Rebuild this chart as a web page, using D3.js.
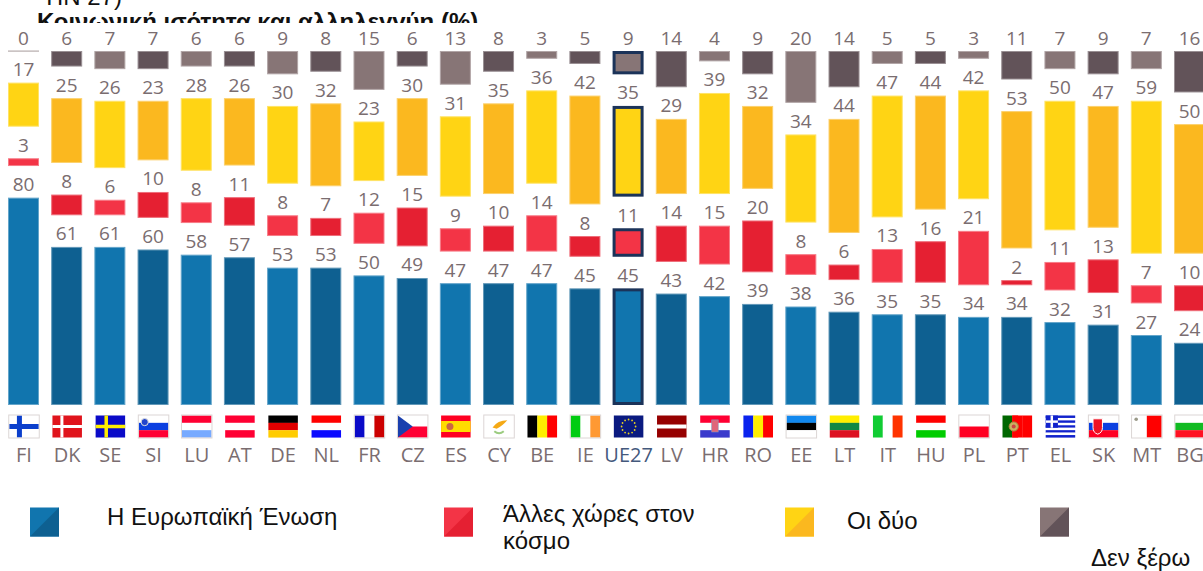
<!DOCTYPE html>
<html lang="el"><head><meta charset="utf-8">
<script src="https://cdn.jsdelivr.net/npm/d3@7"></script>
<style>html,body{margin:0;padding:0;background:#fff;overflow:hidden}svg{display:block}</style>
</head><body><svg id="c" width="1203" height="571"></svg>
<script>
const countries=["FI","DK","SE","SI","LU","AT","DE","NL","FR","CZ","ES","CY","BE","IE","UE27","LV","HR","RO","EE","LT","IT","HU","PL","PT","EL","SK","MT","BG"];
const euValues=[80,61,61,60,58,57,53,53,50,49,47,47,47,45,45,43,42,39,38,36,35,35,34,34,32,31,27,24];
const otherValues=[3,8,6,10,8,11,8,7,12,15,9,10,14,8,11,14,15,20,8,6,13,16,21,2,11,13,7,10];
const bothValues=[17,25,26,23,28,26,30,32,23,30,31,35,36,42,35,29,39,32,34,44,47,44,42,53,50,47,59,50];
const dkValues=[0,6,7,7,6,6,9,8,15,6,13,8,3,5,9,14,4,9,20,14,5,5,3,11,7,9,7,16];
const seriesNames=["Η Ευρωπαϊκή Ένωση","Άλλες χώρες στον κόσμο","Οι δύο","Δεν ξέρω"];
const titleLines=["ΤΙΝ 27)","Κοινωνική ισότητα και αλληλεγγύη (%)"];
const series=[euValues,otherValues,bothValues,dkValues];
const lightColors=["#1175ae","#f33446","#ffd414","#877576"];
const darkColors=["#0e6091","#e52032","#fbb81f","#625359"];

const svg=d3.select("#c");
const defs=svg.append("defs");
const x=d3.scaleBand().domain(countries).range([8,1205]).paddingInner(0.282).paddingOuter(0);
const bottom=405, gap=31.6;
const h=d3.scaleLinear().domain([0,100]).range([0,259.2]);
const labelFont="'Open Sans',sans-serif", textCol="#7a6d70";

// clipped header
defs.append("clipPath").attr("id","t2").append("rect").attr("x",0).attr("y",8).attr("width",1203).attr("height",15);
svg.append("text").attr("x",42).attr("y",4.5).attr("font-family","'Liberation Sans'").attr("font-size",24).attr("fill","#111").text(titleLines[0]);
svg.append("text").attr("x",37).attr("y",30).attr("clip-path","url(#t2)").attr("font-family","'Liberation Sans'").attr("font-size",24).attr("font-weight","bold").attr("fill","#111").text(titleLines[1]);

// bars
countries.forEach((c,i)=>{
  let base=bottom;
  const g=svg.append("g").attr("class","col");
  series.forEach((s,k)=>{
    const v=s[i], hh=h(v), top=base-hh, col=(i%2?darkColors:lightColors)[k];
    if(v===0){
      g.append("rect").attr("x",x(c)).attr("y",top-0.5).attr("width",x.bandwidth()).attr("height",1.2).attr("fill","#b5abac");
    }else if(c==="UE27"){
      g.append("rect").attr("x",x(c)+1.5).attr("y",top+1.5).attr("width",x.bandwidth()-3).attr("height",hh-3).attr("fill",col).attr("stroke","#1b3359").attr("stroke-width",3);
    }else{
      g.append("rect").attr("x",x(c)+0.5).attr("y",top+0.5).attr("width",x.bandwidth()-1).attr("height",hh-1).attr("fill",col).attr("stroke",d3.interpolateRgb(col,"#fff")(0.35)).attr("stroke-width",1);
    }
    g.append("text").attr("x",x(c)+x.bandwidth()/2).attr("y",top-6.5).attr("text-anchor","middle").attr("font-family",labelFont).attr("font-size",19).attr("fill",textCol).text(v);
    base=top-gap;
  });
  svg.append("text").attr("x",x(c)+x.bandwidth()/2+0.5).attr("y",462).attr("text-anchor","middle").attr("font-family",labelFont).attr("font-size",c==="UE27"?20:20).attr("fill",c==="UE27"?"#44597c":textCol).text(c);
});

// flags
const H=(...cs)=>(g,W,F)=>cs.forEach((c,i)=>g.append("rect").attr("y",i*F/cs.length).attr("width",W).attr("height",F/cs.length+0.1).attr("fill",c));
const V=(...cs)=>(g,W,F)=>cs.forEach((c,i)=>g.append("rect").attr("x",i*W/cs.length).attr("width",W/cs.length+0.1).attr("height",F).attr("fill",c));
const cross=(bg,fg,cx,t)=>(g,W,F)=>{
  g.append("rect").attr("width",W).attr("height",F).attr("fill",bg);
  g.append("rect").attr("x",W*cx).attr("width",t).attr("height",F).attr("fill",fg);
  g.append("rect").attr("y",(F-t)/2).attr("width",W).attr("height",t).attr("fill",fg);
};
const flags={
 FI:cross("#fff","#0b3fcc",0.26,5), DK:cross("#e0141c","#fff",0.27,3), SE:cross("#0a0ac8","#ffee00",0.3,3.5),
 SI:(g,W,F)=>{H("#fff","#0b3fe0","#ff0033")(g,W,F);g.append("circle").attr("cx",W*.2).attr("cy",F*.3).attr("r",3.6).attr("fill","#2244cc").attr("stroke","#ddd");},
 LU:H("#ff0033","#fff","#77aaff"), AT:H("#ff0033","#fff","#ff0033"), DE:H("#000","#e00000","#ffcc00"), NL:H("#ff0000","#fff","#0a0aff"),
 FR:V("#0a0ac8","#fff","#cc0000"),
 CZ:(g,W,F)=>{H("#fff","#ff0033")(g,W,F);g.append("path").attr("d",`M0 0L${W*.5} ${F/2}L0 ${F}Z`).attr("fill","#1a3fae");},
 ES:(g,W,F)=>{g.append("rect").attr("width",W).attr("height",F).attr("fill","#ff0022");g.append("rect").attr("y",F*.25).attr("width",W).attr("height",F*.5).attr("fill","#ffdd00");g.append("circle").attr("cx",W*.3).attr("cy",F*.5).attr("r",3.5).attr("fill","#cc6644");},
 CY:(g,W,F)=>{g.append("rect").attr("width",W).attr("height",F).attr("fill","#fff");g.append("path").attr("d",`M${W*.28} ${F*.55}Q${W*.45} ${F*.22} ${W*.78} ${F*.22}Q${W*.6} ${F*.5} ${W*.42} ${F*.6}Z`).attr("fill","#f5a915");g.append("path").attr("d",`M${W*.34} ${F*.72}Q${W*.5} ${F*.9} ${W*.66} ${F*.72}`).attr("fill","none").attr("stroke","#9ccc80").attr("stroke-width",2);},
 BE:V("#000","#ffee00","#ff0000"), IE:V("#00cc11","#fff","#ff9933"),
 UE27:(g,W,F)=>{g.append("rect").attr("width",W).attr("height",F).attr("fill","#0a1a80");d3.range(12).forEach(i=>g.append("circle").attr("cx",W/2+7*Math.cos(i*Math.PI/6)).attr("cy",F/2+7*Math.sin(i*Math.PI/6)).attr("r",.9).attr("fill","#e8d020"));},
 LV:(g,W,F)=>{g.append("rect").attr("width",W).attr("height",F).attr("fill","#960000");g.append("rect").attr("y",F*.41).attr("width",W).attr("height",F*.18).attr("fill","#fff");},
 HR:(g,W,F)=>{H("#ff0033","#fff","#3a3acc")(g,W,F);g.append("rect").attr("x",W*.39).attr("y",F*.2).attr("width",W*.22).attr("height",F*.55).attr("fill","#e0667a").attr("stroke","#8899bb").attr("stroke-width",.6);},
 RO:V("#0a22ee","#ffee00","#ff0000"), EE:H("#1188ee","#000","#fff"), LT:H("#ffee00","#118844","#dd1122"),
 IT:V("#11cc33","#fff","#ff3300"), HU:H("#ff0000","#fff","#00cc00"), PL:H("#fff","#ff0022"),
 PT:(g,W,F)=>{V("#006600","#ff0000","#ff0000")(g,W,F);g.append("rect").attr("x",W*.33).attr("width",W*.2).attr("height",F).attr("fill","#ff0000");g.append("circle").attr("cx",W*.38).attr("cy",F*.5).attr("r",4.6).attr("fill","#c9b060").attr("stroke","#b08040");g.append("circle").attr("cx",W*.38).attr("cy",F*.5).attr("r",2).attr("fill","#c44");},
 EL:(g,W,F)=>{d3.range(9).forEach(i=>g.append("rect").attr("y",i*F/9).attr("width",W).attr("height",F/9+.1).attr("fill",i%2?"#fff":"#1122cc"));g.append("rect").attr("width",F*5/9).attr("height",F*5/9).attr("fill","#1122cc");g.append("rect").attr("x",F*2/9).attr("width",F/9).attr("height",F*5/9).attr("fill","#fff");g.append("rect").attr("y",F*2/9).attr("width",F*5/9).attr("height",F/9).attr("fill","#fff");},
 SK:(g,W,F)=>{H("#fff","#0b3fe0","#ff0022")(g,W,F);g.append("path").attr("d",`M${W*.14} ${F*.15}H${W*.46}V${F*.55}Q${W*.46} ${F*.78} ${W*.3} ${F*.85}Q${W*.14} ${F*.78} ${W*.14} ${F*.55}Z`).attr("fill","#ee1122").attr("stroke","#fff");},
 MT:(g,W,F)=>{V("#fff","#ff0000")(g,W,F);g.append("circle").attr("cx",W*.14).attr("cy",F*.17).attr("r",1.8).attr("fill","#998");},
 BG:H("#fff","#11bb22","#ff1122")
};
const fw=29.5, fh=22;
countries.forEach(c=>{
  const g=svg.append("g").attr("transform",`translate(${x(c)+x.bandwidth()/2-fw/2+0.5},415.5)`);
  flags[c](g,fw,fh);
  if(["FI","SI","LU","CY","PL","MT","BG","SK","IE","CZ","EE","FR"].includes(c))
    g.append("rect").attr("x",-.5).attr("y",-.5).attr("width",fw+1).attr("height",fh+1).attr("fill","none").attr("stroke","#dcd6d5");
});

// legend
const swX=[30,444,785,1040];
seriesNames.forEach((n,k)=>{
  const g=svg.append("g").attr("transform",`translate(${swX[k]},507.5)`);
  g.append("rect").attr("width",29).attr("height",29).attr("fill",lightColors[k]);
  g.append("path").attr("d","M29 0V29H0Z").attr("fill",darkColors[k]);
});
const legendText=(t,xx,yy)=>svg.append("text").attr("x",xx).attr("y",yy).attr("font-family","'Liberation Sans'").attr("font-size",24).attr("fill","#111").text(t);
legendText(seriesNames[0],107,525);
const [a,b]=[seriesNames[1].slice(0,16),seriesNames[1].slice(17)];
legendText(a,503,522);
legendText(b,503,549);
legendText(seriesNames[2],847,529);
legendText(seriesNames[3],1091,566);
</script></body></html>
